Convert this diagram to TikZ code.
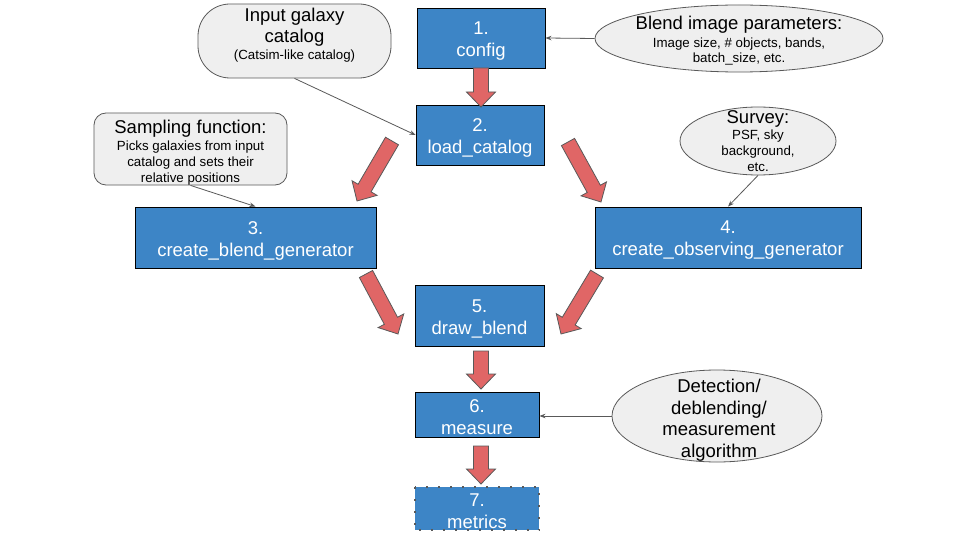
\documentclass[tikz,border=0pt]{standalone}
\usepackage{fontspec}
\setmainfont{Liberation Sans}
\usetikzlibrary{calc,arrows.meta,shapes.geometric}
\definecolor{boxblue}{HTML}{3D85C6}
\definecolor{arrowred}{HTML}{E06666}
\definecolor{grayfill}{HTML}{EFEFEF}
\definecolor{edgegray}{HTML}{595959}
\tikzset{
  bluebox/.style={draw=black, line width=0.9pt, fill=boxblue, inner sep=0pt},
  boxtxt/.style={text=white, align=center, inner sep=0pt, font=\fontsize{18.5}{22}\selectfont},
  grayshape/.style={draw=edgegray, line width=0.8pt, fill=grayfill, inner sep=0pt},
  bigtxt/.style={align=center, inner sep=0pt, text=black, font=\fontsize{18.5}{21.5}\selectfont},
  smalltxt/.style={align=center, inner sep=0pt, text=black, font=\fontsize{13.3}{16}\selectfont},
  feedarrow/.style={draw=edgegray, line width=0.8pt, -{Stealth[length=6pt,width=4.5pt]}},
  bigarr/.style={draw=edgegray, line width=0.8pt, fill=arrowred, line join=miter},
  dotborder/.style={draw=edgegray, line width=2pt, dash pattern=on 2pt off 10pt},
}
\newcommand\blockarrow[2]{%
  \coordinate (hb) at ($(#2)!15pt!(#1)$);
  \filldraw[bigarr] ($(#1)!7.5pt!90:(#2)$) -- ($(hb)!7.5pt!-90:(#1)$) -- ($(hb)!14.5pt!-90:(#1)$) -- (#2) -- ($(hb)!14.5pt!90:(#1)$) -- ($(hb)!7.5pt!90:(#1)$) -- ($(#1)!7.5pt!-90:(#2)$) -- cycle;}
\begin{document}
\begin{tikzpicture}[x=1pt,y=-1pt]
\useasboundingbox (0,0) rectangle (960,540);
\fill[white] (0,0) rectangle (960,540);

% main process boxes
\node[bluebox, minimum width=128pt, minimum height=60pt] (config) at (481,38) {};
\node[boxtxt] (configT) at ($(config.center)+(0,3)$) {1.\\config};
\node[bluebox, minimum width=128pt, minimum height=60pt] (load) at (480,135) {};
\node[boxtxt] (loadT) at ($(load.center)+(0,3)$) {2.\\load\_catalog};
\node[bluebox, minimum width=241pt, minimum height=61pt] (bgen) at (255.5,237.5) {};
\node[boxtxt] (bgenT) at ($(bgen.center)+(0,3)$) {3.\\create\_blend\_generator};
\node[bluebox, minimum width=266pt, minimum height=61pt] (ogen) at (728,237.5) {};
\node[boxtxt] (ogenT) at ($(ogen.center)+(0,3)$) {4.\\create\_observing\_generator};
\node[bluebox, minimum width=129pt, minimum height=61pt] (dblend) at (479.5,315.5) {};
\node[boxtxt] (dblendT) at ($(dblend.center)+(0,3)$) {5.\\draw\_blend};
\node[bluebox, minimum width=124pt, minimum height=45pt] (measure) at (477,414.5) {};
\node[boxtxt] (measureT) at ($(measure.center)+(0,3)$) {6.\\measure};
\node[bluebox, draw=none, minimum width=124pt, minimum height=43pt] (metrics) at (477,508.5) {};
\node[boxtxt] (metricsT) at ($(metrics.center)+(0,3)$) {7.\\metrics};
\draw[dotborder] (metrics.north west) rectangle (metrics.south east);

% input shapes
\node[grayshape, rounded corners=32pt, minimum width=193pt, minimum height=74pt] (incat) at (294.5,41) {};
\node[bigtxt] (incatT) at (294.5,27) {Input galaxy\\catalog};
\node[smalltxt] (incatB) at (294.5,56) {(Catsim-like catalog)};

\node[grayshape, ellipse, minimum width=288pt, minimum height=67pt] (blendpar) at (739,38.5) {};
\node[bigtxt] (blendparT) at (739,25) {Blend image parameters:};
\node[smalltxt, font=\fontsize{13.3}{15}\selectfont] (blendparB) at (739,51.5) {Image size, \# objects, bands,\\batch\_size, etc.};

\node[grayshape, rounded corners=12pt, minimum width=193pt, minimum height=72pt] (sampling) at (190.5,149) {};
\node[bigtxt] (samplingT) at (190.5,129) {Sampling function:};
\node[smalltxt] (samplingB) at (190.5,163) {Picks galaxies from input\\catalog and sets their\\relative positions};

\node[grayshape, ellipse, minimum width=156pt, minimum height=68pt] (survey) at (758,141) {};
\node[bigtxt] (surveyT) at (758,119) {Survey:};
\node[smalltxt] (surveyB) at (758,151) {PSF, sky\\background,\\etc.};

\node[grayshape, ellipse, minimum width=210pt, minimum height=92pt] (detect) at (717,416) {};
\node[bigtxt] (detectT) at (719,420) {Detection/\\deblending/\\measurement\\algorithm};

% thin connectors
\draw[feedarrow] (incat.south) -- (load.west);
\draw[feedarrow] (blendpar.west) -- (config.east);
\draw[feedarrow] (sampling.south) -- (bgen.north);
\draw[feedarrow] (survey.south) -- (ogen.north);
\draw[feedarrow] (detect.west) -- (detect.west -| measure.east);

% block arrows
\coordinate (a1s) at (481,68);   \coordinate (a1e) at (481,107);
\coordinate (a2s) at (392,141);  \coordinate (a2e) at (357,201);
\coordinate (a3s) at (568,142);  \coordinate (a3e) at (601,202);
\coordinate (a4s) at (366,274);  \coordinate (a4e) at (398,334);
\coordinate (a5s) at (597,274);  \coordinate (a5e) at (561,334);
\coordinate (a6s) at (481,351);  \coordinate (a6e) at (481,389);
\coordinate (a7s) at (481,446);  \coordinate (a7e) at (481,484);
\blockarrow{a1s}{a1e}
\blockarrow{a2s}{a2e}
\blockarrow{a3s}{a3e}
\blockarrow{a4s}{a4e}
\blockarrow{a5s}{a5e}
\blockarrow{a6s}{a6e}
\blockarrow{a7s}{a7e}
\end{tikzpicture}
\end{document}
